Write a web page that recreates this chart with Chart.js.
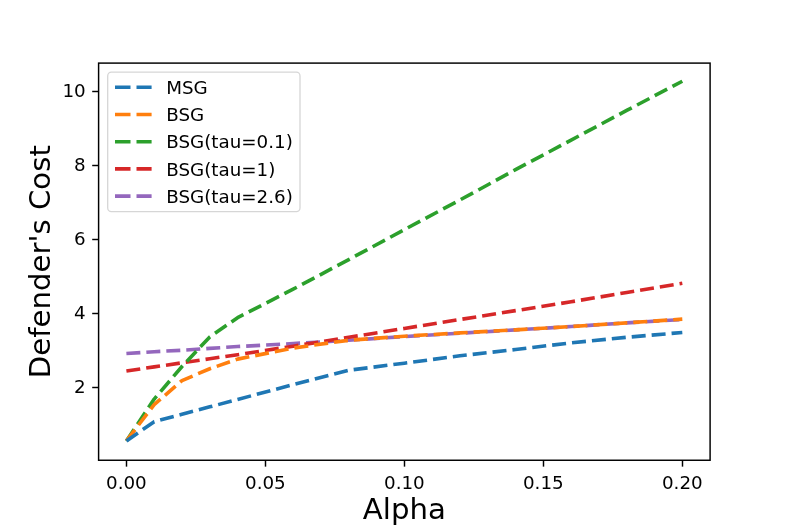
<!DOCTYPE html>
<html>
<head>
<meta charset="utf-8">
<script src="https://cdn.jsdelivr.net/npm/chart.js@4/dist/chart.umd.min.js"></script>
<style>
  html, body { margin: 0; padding: 0; background: #ffffff; }
  #c { display: block; }
</style>
</head>
<body>
<canvas id="c" width="789" height="526"></canvas>
<script>
const alphaValues = [0, 0.01, 0.02, 0.03, 0.04, 0.06, 0.08, 0.10, 0.12, 0.14, 0.16, 0.18, 0.20];
const msg      = [0.57, 1.09, 1.29, 1.49, 1.69, 2.09, 2.48, 2.67, 2.87, 3.04, 3.22, 3.37, 3.50];
const bsg      = [0.57, 1.55, 2.20, 2.52, 2.78, 3.08, 3.29, 3.40, 3.49, 3.57, 3.66, 3.76, 3.86];
const bsgTau01 = [0.57, 1.70, 2.58, 3.38, 3.90, 4.67, 5.47, 6.28, 7.08, 7.90, 8.70, 9.50, 10.29];
const bsgTau1  = [2.46, 2.57, 2.68, 2.79, 2.90, 3.13, 3.37, 3.61, 3.85, 4.09, 4.33, 4.58, 4.83];
const bsgTau26 = [2.93, 2.98, 3.02, 3.07, 3.12, 3.20, 3.29, 3.39, 3.48, 3.57, 3.66, 3.76, 3.85];
const seriesLabels = ['MSG', 'BSG', 'BSG(tau=0.1)', 'BSG(tau=1)', 'BSG(tau=2.6)'];
const xTicks = [0, 0.05, 0.10, 0.15, 0.20];
const yTicks = [2, 4, 6, 8, 10];

const colors = ['#1f77b4', '#ff7f0e', '#2ca02c', '#d62728', '#9467bd'];
const allSeries = [msg, bsg, bsgTau01, bsgTau1, bsgTau26];
const DASH = [14, 6];
const FONT = 'DejaVu Sans';

const datasets = allSeries.map((s, i) => ({
  label: seriesLabels[i],
  data: alphaValues.map((a, j) => ({x: a, y: s[j]})),
  borderColor: colors[i],
  backgroundColor: colors[i],
  borderWidth: 3.6,
  borderDash: DASH,
  borderCapStyle: 'butt',
  borderJoinStyle: 'round',
  pointRadius: 0,
  pointHoverRadius: 0,
  fill: false,
  tension: 0
}));

const framePlugin = {
  id: 'frame',
  afterDatasetsDraw(chart) {
    const {ctx, chartArea: a} = chart;
    ctx.save();
    ctx.strokeStyle = '#000';
    ctx.lineWidth = 1.46;
    ctx.strokeRect(a.left, a.top, a.right - a.left, a.bottom - a.top);
    ctx.restore();
  }
};

const legendPlugin = {
  id: 'mplLegend',
  afterDraw(chart) {
    const ctx = chart.ctx;
    const x0 = 107.7, y0 = 72.2, w = 192.3, h = 139.5, r = 3.7;
    ctx.save();
    ctx.beginPath();
    ctx.moveTo(x0 + r, y0);
    ctx.lineTo(x0 + w - r, y0);
    ctx.arcTo(x0 + w, y0, x0 + w, y0 + r, r);
    ctx.lineTo(x0 + w, y0 + h - r);
    ctx.arcTo(x0 + w, y0 + h, x0 + w - r, y0 + h, r);
    ctx.lineTo(x0 + r, y0 + h);
    ctx.arcTo(x0, y0 + h, x0, y0 + h - r, r);
    ctx.lineTo(x0, y0 + r);
    ctx.arcTo(x0, y0, x0 + r, y0, r);
    ctx.closePath();
    ctx.fillStyle = 'rgba(255,255,255,0.8)';
    ctx.fill();
    ctx.strokeStyle = 'rgba(204,204,204,0.8)';
    ctx.lineWidth = 1.3;
    ctx.stroke();
    ctx.font = '18.3px "' + FONT + '"';
    ctx.textAlign = 'left';
    ctx.textBaseline = 'alphabetic';
    chart.data.datasets.forEach((ds, i) => {
      const cy = 87.3 + i * 27.2;
      ctx.strokeStyle = ds.borderColor;
      ctx.lineWidth = 3.6;
      ctx.lineCap = 'butt';
      ctx.setLineDash([15.5, 6]);
      ctx.beginPath();
      ctx.moveTo(115, cy);
      ctx.lineTo(151.6, cy);
      ctx.stroke();
      ctx.setLineDash([]);
      ctx.fillStyle = '#000';
      ctx.fillText(ds.label, 166.2, cy + 6.6);
    });
    ctx.restore();
  }
};

new Chart(document.getElementById('c'), {
  type: 'line',
  data: { datasets },
  options: {
    responsive: false,
    animation: false,
    devicePixelRatio: 1,
    layout: { padding: { left: 0, top: 63.1, right: 78.9, bottom: 0 } },
    plugins: { legend: { display: false }, tooltip: { enabled: false } },
    scales: {
      x: {
        type: 'linear',
        min: -0.01,
        max: 0.21,
        afterFit(scale) { scale.height = 65.75; },
        afterBuildTicks(scale) { scale.ticks = xTicks.map(v => ({value: v})); },
        border: { display: false },
        grid: { drawOnChartArea: false, drawTicks: true, tickLength: 6.4, tickColor: '#000', tickWidth: 1.46, color: '#000' },
        ticks: {
          color: '#000',
          font: { family: FONT, size: 18.3 },
          padding: 7,
          maxRotation: 0,
          autoSkip: false,
          callback: v => Number(v).toFixed(2)
        },
        title: {
          display: true,
          text: 'Alpha',
          color: '#000',
          font: { family: FONT, size: 29.2 },
          padding: { top: 0, bottom: -3 }
        }
      },
      y: {
        type: 'linear',
        min: 0.047,
        max: 10.78,
        afterFit(scale) { scale.width = 98.6; },
        afterBuildTicks(scale) { scale.ticks = yTicks.map(v => ({value: v})); },
        border: { display: false },
        grid: { drawOnChartArea: false, drawTicks: true, tickLength: 6.4, tickColor: '#000', tickWidth: 1.46, color: '#000' },
        ticks: {
          color: '#000',
          font: { family: FONT, size: 18.3 },
          padding: 6.5,
          autoSkip: false,
          callback: v => String(v)
        },
        title: {
          display: true,
          text: "Defender's Cost",
          color: '#000',
          font: { family: FONT, size: 29.2 },
          padding: { top: 25, bottom: 0 }
        }
      }
    }
  },
  plugins: [framePlugin, legendPlugin]
});
</script>
</body>
</html>
